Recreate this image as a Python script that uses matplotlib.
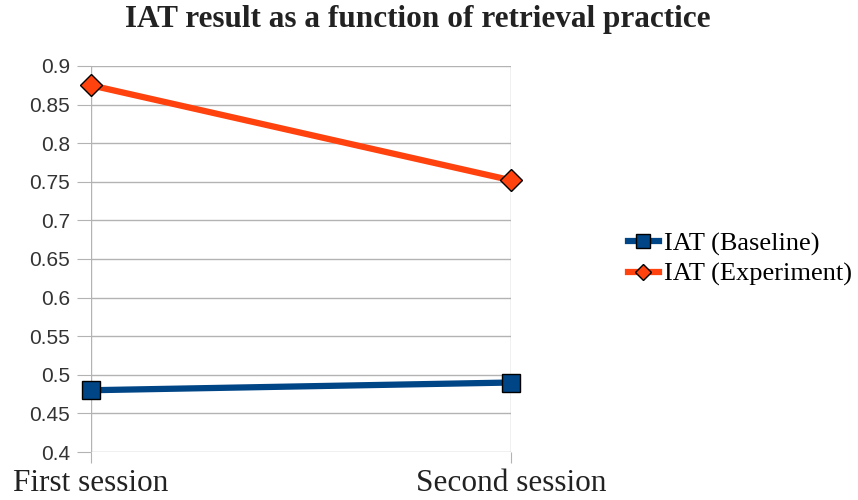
import matplotlib.pyplot as plt

sessions = ['First session', 'Second session']
baseline = [0.48, 0.49]
experiment = [0.875, 0.752]
yticks = [0.4, 0.45, 0.5, 0.55, 0.6, 0.65, 0.7, 0.75, 0.8, 0.85, 0.9]

fig = plt.figure(figsize=(8.58, 5), dpi=100)
ax = fig.add_axes([91 / 858, 48 / 500, 420 / 858, 386 / 500])

x = list(range(len(sessions)))
ax.plot(x, baseline, color='#004586', lw=4.5, marker='s', ms=13,
        mfc='#004586', mec='black', mew=1, label='IAT (Baseline)', clip_on=False, zorder=3)
ax.plot(x, experiment, color='#ff420e', lw=4.5, marker='D', ms=11,
        mfc='#ff420e', mec='black', mew=1, label='IAT (Experiment)', clip_on=False, zorder=3)

ax.set_xlim(0, 1)
ax.set_ylim(0.4, 0.9)
ax.set_yticks(yticks)
ax.set_yticklabels([f'{v:g}' for v in yticks], fontsize=15, color='#333333',
                   family='Liberation Sans')
ax.set_xticks(x)
ax.set_xticklabels(sessions, fontsize=22.5, family='Liberation Serif', color='#222222')

for s in ax.spines.values():
    s.set_visible(False)
ax.grid(True, color='#b3b3b3', lw=1)
ax.tick_params(axis='y', length=10, color='#b3b3b3', pad=5)
ax.tick_params(axis='x', length=8, color='#b3b3b3', pad=4)
ax.set_axisbelow(True)

fig.suptitle('IAT result as a function of retrieval practice', x=0.487, y=0.99,
             fontsize=22.5, fontweight='bold', family='Liberation Serif', color='#222222')

ax.legend(loc='center left', bbox_to_anchor=(1.254, 0.5), frameon=False,
          prop={'family': 'Liberation Serif', 'size': 19}, handlelength=1.15,
          handletextpad=0.2, labelspacing=0.25, borderaxespad=0, markerscale=0.75)

fig.savefig('out.png', dpi=100)
